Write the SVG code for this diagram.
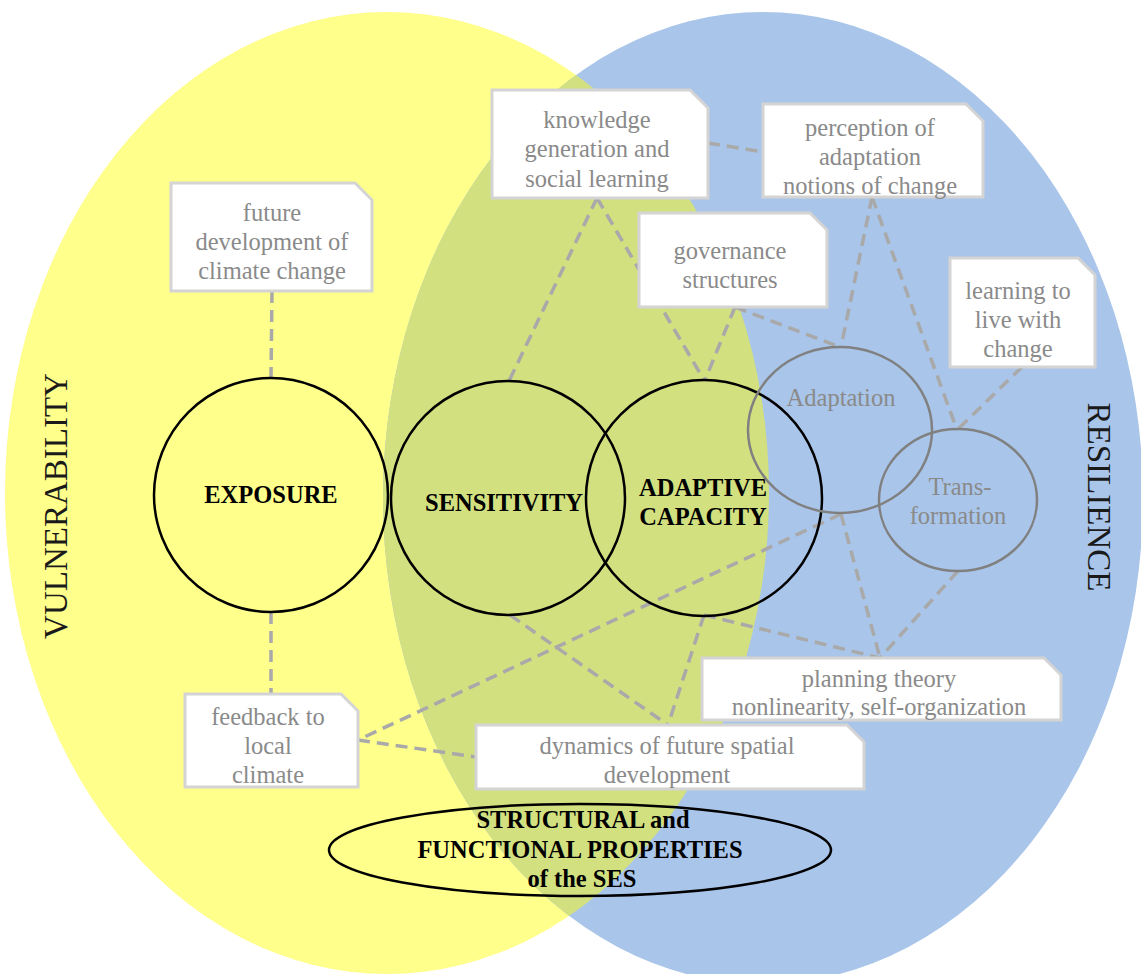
<svg xmlns="http://www.w3.org/2000/svg" width="1141" height="974" viewBox="0 0 1141 974">
<style>
.note{fill:#ffffff;stroke:#d4d4d4;stroke-width:3}
.nt{font-family:"Liberation Serif",serif;font-size:24.5px;fill:#8a8a8a;text-anchor:middle}
.bt{font-family:"Liberation Serif",serif;font-size:24.5px;font-weight:bold;fill:#000;text-anchor:middle}
.big{font-family:"Liberation Serif",serif;font-size:33px;fill:#1a1a1a;text-anchor:middle}
.main{fill:none;stroke:#000;stroke-width:2.5}
.sub{fill:none;stroke:#808080;stroke-width:2.5}
.dash{fill:none;stroke:#a9a9a9;stroke-width:3.5;stroke-dasharray:12 7}
</style>
<defs>
<clipPath id="blueClip"><ellipse cx="763" cy="498" rx="380" ry="486"/></clipPath>
</defs>
<g id="background">
<ellipse cx="387" cy="493" rx="382" ry="481" fill="#ffff8c"/>
<ellipse cx="763" cy="498" rx="380" ry="486" fill="#a9c5e9"/>
<ellipse cx="387" cy="493" rx="382" ry="481" fill="#d2e080" clip-path="url(#blueClip)"/>
</g>
<g id="connectors">
<line class="dash" x1="272" y1="291" x2="271" y2="378"/>
<line class="dash" x1="271" y1="612" x2="271" y2="694"/>
<line class="dash" x1="597" y1="198" x2="509" y2="381"/>
<line class="dash" x1="597" y1="198" x2="704" y2="380"/>
<line class="dash" x1="735" y1="307" x2="705" y2="380"/>
<line class="dash" x1="735" y1="307" x2="840" y2="347"/>
<line class="dash" x1="708" y1="143" x2="763" y2="152"/>
<line class="dash" x1="872" y1="197" x2="841" y2="347"/>
<line class="dash" x1="872" y1="197" x2="957" y2="430"/>
<line class="dash" x1="1022" y1="367" x2="957" y2="430"/>
<line class="dash" x1="841" y1="514" x2="358" y2="740"/>
<line class="dash" x1="841" y1="514" x2="880" y2="658"/>
<line class="dash" x1="958" y1="571" x2="880" y2="658"/>
<line class="dash" x1="704" y1="615" x2="880" y2="658"/>
<line class="dash" x1="704" y1="615" x2="668" y2="725"/>
<line class="dash" x1="510" y1="615" x2="668" y2="725"/>
<line class="dash" x1="358" y1="740" x2="476" y2="757"/>
</g>
<g id="exposure">
<circle class="main" cx="271" cy="495" r="117"/>
<text class="bt" x="271" y="503">EXPOSURE</text>
</g>
<g id="sensitivity">
<circle class="main" cx="508" cy="498" r="117"/>
<text class="bt" x="504" y="511">SENSITIVITY</text>
</g>
<g id="adaptive-capacity">
<circle class="main" cx="704" cy="498" r="118"/>
<text class="bt" x="703" y="496">ADAPTIVE</text>
<text class="bt" x="703" y="525">CAPACITY</text>
</g>
<g id="adaptation">
<ellipse class="sub" cx="840" cy="430" rx="92" ry="83"/>
<text class="nt" x="841" y="406">Adaptation</text>
</g>
<g id="transformation">
<ellipse class="sub" cx="958" cy="500" rx="79" ry="71"/>
<text class="nt" x="960" y="495">Trans-</text>
<text class="nt" x="958" y="524">formation</text>
</g>
<g id="ses">
<ellipse class="main" cx="580" cy="850" rx="251" ry="46"/>
<text class="bt" x="583" y="828">STRUCTURAL and</text>
<text class="bt" x="580" y="858">FUNCTIONAL PROPERTIES</text>
<text class="bt" x="582" y="887">of the SES</text>
</g>
<g id="knowledge">
<path class="note" d="M492,90 H690 L708,108 V198 H492 Z"/>
<text class="nt" x="597" y="128">knowledge</text>
<text class="nt" x="597" y="157">generation and</text>
<text class="nt" x="597" y="187">social learning</text>
</g>
<g id="future">
<path class="note" d="M171,183 H355 L372,200 V291 H171 Z"/>
<text class="nt" x="272" y="221">future</text>
<text class="nt" x="272" y="250">development of</text>
<text class="nt" x="272" y="279">climate change</text>
</g>
<g id="perception">
<path class="note" d="M763,104 H966 L983,121 V197 H763 Z"/>
<text class="nt" x="870" y="136">perception of</text>
<text class="nt" x="870" y="165">adaptation</text>
<text class="nt" x="870" y="194">notions of change</text>
</g>
<g id="governance">
<path class="note" d="M639,213 H810 L827,230 V307 H639 Z"/>
<text class="nt" x="730" y="259">governance</text>
<text class="nt" x="730" y="288">structures</text>
</g>
<g id="learning">
<path class="note" d="M950,258 H1078 L1095,275 V367 H950 Z"/>
<text class="nt" x="1018" y="299">learning to</text>
<text class="nt" x="1018" y="328">live with</text>
<text class="nt" x="1018" y="357">change</text>
</g>
<g id="planning">
<path class="note" d="M702,658 H1044 L1061,675 V720 H702 Z"/>
<text class="nt" x="879" y="687">planning theory</text>
<text class="nt" x="879" y="715">nonlinearity, self-organization</text>
</g>
<g id="feedback">
<path class="note" d="M185,694 H341 L358,711 V787 H185 Z"/>
<text class="nt" x="268" y="725">feedback to</text>
<text class="nt" x="268" y="754">local</text>
<text class="nt" x="268" y="783">climate</text>
</g>
<g id="dynamics">
<path class="note" d="M476,725 H847 L864,742 V789 H476 Z"/>
<text class="nt" x="667" y="754">dynamics of future spatial</text>
<text class="nt" x="667" y="783">development</text>
</g>
<g id="labels">
<text class="big" transform="translate(67,506) rotate(-90)">VULNERABILITY</text>
<text class="big" transform="translate(1088,497) rotate(90)">RESILIENCE</text>
</g>
</svg>
